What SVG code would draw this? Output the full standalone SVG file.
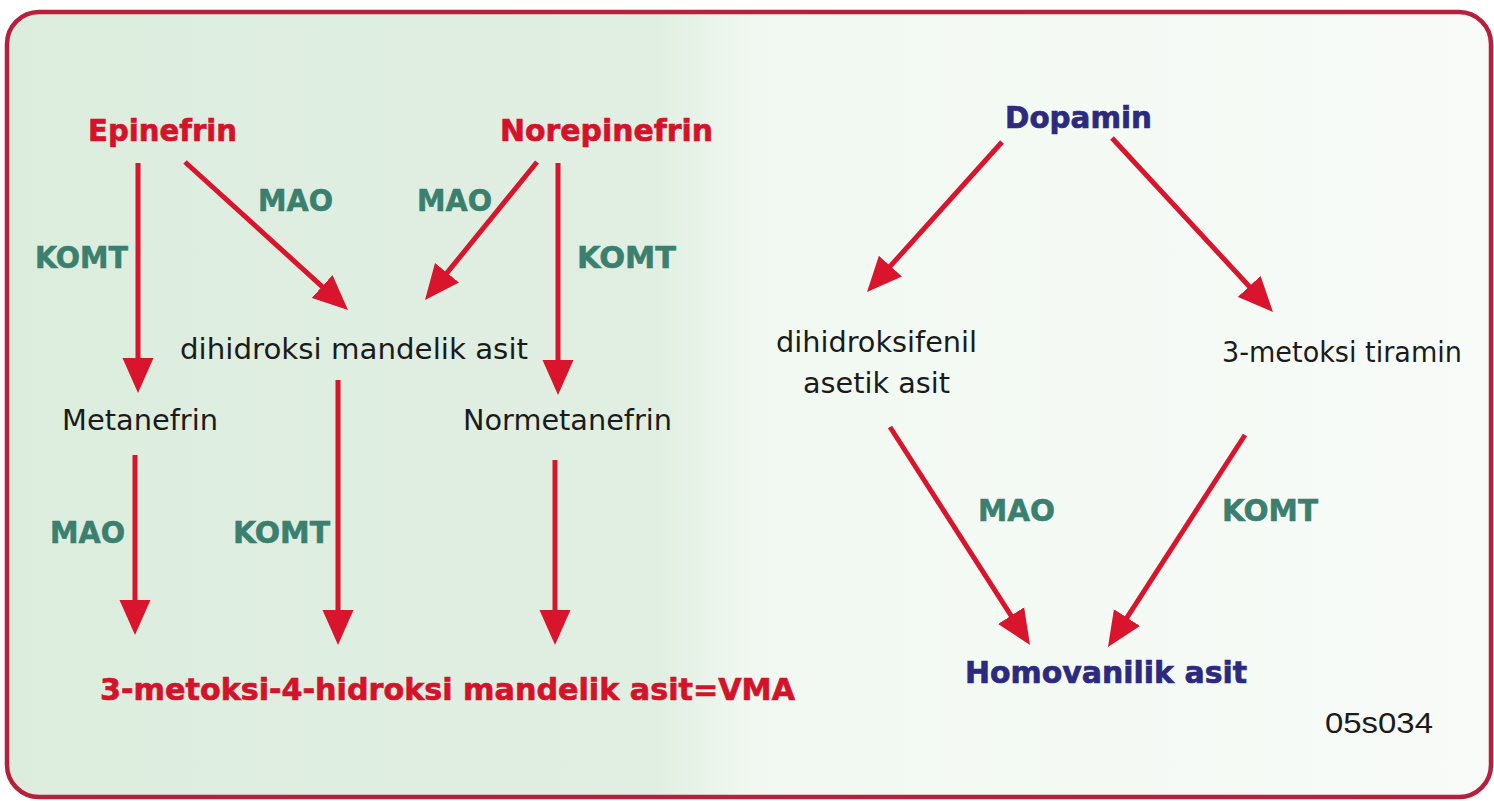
<svg xmlns="http://www.w3.org/2000/svg" width="1494" height="801" viewBox="0 0 1494 801">
<defs>
<linearGradient id="bg" x1="0" y1="0" x2="1" y2="0">
<stop offset="0" stop-color="#dcedde"/>
<stop offset="0.44" stop-color="#e1efe2"/>
<stop offset="0.5" stop-color="#f1f8f1"/>
<stop offset="1" stop-color="#f8fbf8"/>
</linearGradient>
<marker id="ah" markerUnits="userSpaceOnUse" markerWidth="36" markerHeight="32" refX="25" refY="16" orient="auto">
<path d="M0,0.5 L35,16 L0,31.5 Z" fill="#d8152d"/>
</marker>
<style>
.t{font-family:"DejaVu Sans",Verdana,sans-serif;font-weight:bold;font-size:31px;stroke-width:0.7}
.red{fill:#d4132a;stroke:#d4132a}
.blue{fill:#2b2a7e;stroke:#2b2a7e}
.enz{font-family:"DejaVu Sans",Verdana,sans-serif;font-weight:bold;font-size:31px;fill:#3b7f6f;stroke:#3b7f6f;stroke-width:0.6}
.blk{font-family:"DejaVu Sans",Verdana,sans-serif;font-size:28px;fill:#1b1b1b}
.code{font-family:"Liberation Sans",Arial,sans-serif;font-size:30px;fill:#1b1b1b}
.c line{stroke:#d8152d;stroke-width:5;marker-end:url(#ah)}
</style>
</defs>
<rect x="0" y="0" width="1494" height="801" fill="#ffffff"/>
<rect x="7" y="12" width="1484" height="785" rx="32" fill="url(#bg)" stroke="#b81f3b" stroke-width="4.5"/>
<g class="c" id="connectors">
<line x1="138" y1="163" x2="138" y2="383"/>
<line x1="185" y1="162" x2="340.6" y2="303.3"/>
<line x1="537" y1="162" x2="431.3" y2="292.2"/>
<line x1="558" y1="163" x2="558" y2="385"/>
<line x1="135" y1="455" x2="135" y2="625"/>
<line x1="338" y1="380" x2="338" y2="635"/>
<line x1="555" y1="460" x2="555" y2="635"/>
<line x1="1002" y1="142" x2="873.7" y2="284.6"/>
<line x1="1112" y1="138" x2="1266.2" y2="304.7"/>
<line x1="890" y1="427" x2="1024.6" y2="636.6"/>
<line x1="1245" y1="435" x2="1113.4" y2="638.6"/>
</g>
<g id="epinefrin"><text class="t red" x="88" y="141" textLength="149" lengthAdjust="spacingAndGlyphs">Epinefrin</text></g>
<g id="norepinefrin"><text class="t red" x="500" y="141" textLength="213" lengthAdjust="spacingAndGlyphs">Norepinefrin</text></g>
<g id="dopamin"><text class="t blue" x="1005" y="128" textLength="147" lengthAdjust="spacingAndGlyphs">Dopamin</text></g>
<g id="dma"><text class="blk" x="180" y="359" textLength="348" lengthAdjust="spacingAndGlyphs">dihidroksi mandelik asit</text></g>
<g id="metanefrin"><text class="blk" x="62" y="430" textLength="156" lengthAdjust="spacingAndGlyphs">Metanefrin</text></g>
<g id="normetanefrin"><text class="blk" x="463" y="430" textLength="209" lengthAdjust="spacingAndGlyphs">Normetanefrin</text></g>
<g id="vma"><text class="t red" x="100" y="700" textLength="695" lengthAdjust="spacingAndGlyphs">3-metoksi-4-hidroksi mandelik asit=VMA</text></g>
<g id="dopac"><text class="blk" x="776" y="352" textLength="201" lengthAdjust="spacingAndGlyphs">dihidroksifenil</text><text class="blk" x="803" y="393" textLength="147" lengthAdjust="spacingAndGlyphs">asetik asit</text></g>
<g id="mt"><text class="blk" x="1222" y="362" textLength="240" lengthAdjust="spacingAndGlyphs">3-metoksi tiramin</text></g>
<g id="hva"><text class="t blue" x="965" y="683" textLength="282" lengthAdjust="spacingAndGlyphs">Homovanilik asit</text></g>
<g id="code"><text class="code" x="1325" y="733" textLength="108" lengthAdjust="spacingAndGlyphs">05s034</text></g>
<g id="labels">
<text class="enz" x="258" y="211" textLength="75" lengthAdjust="spacingAndGlyphs">MAO</text>
<text class="enz" x="417" y="211" textLength="75" lengthAdjust="spacingAndGlyphs">MAO</text>
<text class="enz" x="35" y="268" textLength="93" lengthAdjust="spacingAndGlyphs">KOMT</text>
<text class="enz" x="577" y="268" textLength="99" lengthAdjust="spacingAndGlyphs">KOMT</text>
<text class="enz" x="50" y="543" textLength="75" lengthAdjust="spacingAndGlyphs">MAO</text>
<text class="enz" x="233" y="543" textLength="97" lengthAdjust="spacingAndGlyphs">KOMT</text>
<text class="enz" x="978" y="521" textLength="77" lengthAdjust="spacingAndGlyphs">MAO</text>
<text class="enz" x="1222" y="521" textLength="96" lengthAdjust="spacingAndGlyphs">KOMT</text>
</g>
</svg>
